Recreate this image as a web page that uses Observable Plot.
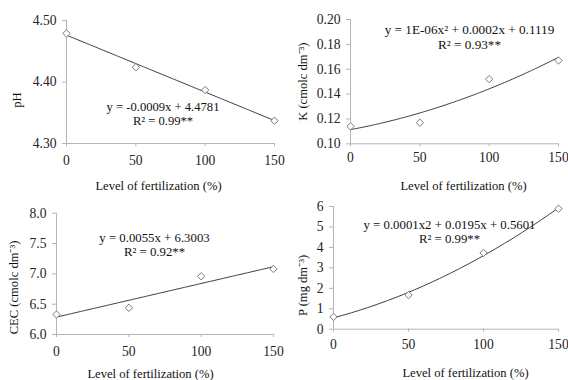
<!DOCTYPE html>
<html><head><meta charset="utf-8">
<script src="https://cdn.jsdelivr.net/npm/d3@7"></script>
<script src="https://cdn.jsdelivr.net/npm/@observablehq/plot@0.6"></script>
<style>
html,body{margin:0;padding:0;background:#fff;}
#chart{position:relative;width:568px;height:380px;overflow:hidden;background:#fff;}
#chart svg{position:absolute;left:0;top:0;}
</style></head><body><div id="chart"></div>
<script>
// ---- data ----
const levels = [0, 50, 100, 150];
const phValues = [4.479, 4.424, 4.387, 4.337];
const kValues = [0.114, 0.117, 0.152, 0.167];
const cecValues = [6.33, 6.44, 6.96, 7.08];
const pValues = [0.60, 1.67, 3.73, 5.89];
const xTicks = [0, 50, 100, 150];
const phTicks = [4.30, 4.40, 4.50];
const kTicks = [0.10, 0.12, 0.14, 0.16, 0.18, 0.20];
const cecTicks = [6.0, 6.5, 7.0, 7.5, 8.0];
const pTicks = [0, 1, 2, 3, 4, 5, 6];
const xTitle = "Level of fertilization (%)";
const yTitles = ["pH", "K (cmolc dm\u207B\u00B3)", "CEC (cmolc dm\u207B\u00B3)", "P (mg dm\u207B\u00B3)"];
const equations = [
  "y = -0.0009x + 4.4781\nR\u00B2 = 0.99**",
  "y = 1E-06x\u00B2 + 0.0002x + 0.1119\nR\u00B2 = 0.93**",
  "y = 0.0055x + 6.3003\nR\u00B2 = 0.92**",
  "y = 0.0001x2 + 0.0195x + 0.5601\nR\u00B2 = 0.99**"
];

// least-squares polynomial fit (trend line, as in the source chart)
function polyFit(xs, ys, deg) {
  const n = deg + 1;
  const A = Array.from({length: n}, () => new Array(n + 1).fill(0));
  for (let k = 0; k < xs.length; k++) {
    for (let i = 0; i < n; i++) {
      for (let j = 0; j < n; j++) A[i][j] += Math.pow(xs[k], i + j);
      A[i][n] += ys[k] * Math.pow(xs[k], i);
    }
  }
  for (let i = 0; i < n; i++) {
    let p = i;
    for (let r = i + 1; r < n; r++) if (Math.abs(A[r][i]) > Math.abs(A[p][i])) p = r;
    [A[i], A[p]] = [A[p], A[i]];
    for (let r = 0; r < n; r++) {
      if (r === i) continue;
      const f = A[r][i] / A[i][i];
      for (let c = i; c <= n; c++) A[r][c] -= f * A[i][c];
    }
  }
  return A.map((row, i) => row[n] / row[i]);
}
const evalPoly = (c, x) => c.reduce((s, a, i) => s + a * Math.pow(x, i), 0);

const panels = [
  {values: phValues, ticks: phTicks, fmt: d3.format(".2f"), deg: 1,
   frame: [66, 274, 20, 143], xPad: 8.7,
   xt: [-12, 42], yt: [-50, 18], eq: [96.5, 93.3], eqSize: 12.6},
  {values: kValues, ticks: kTicks, fmt: d3.format(".2f"), deg: 2,
   frame: [350, 558, 19, 143.3], xPad: 5.5,
   xt: [9, 42], yt: [-48, 0], eq: [119, 17.3], eqSize: 13.2},
  {values: cecValues, ticks: cecTicks, fmt: d3.format(".1f"), deg: 1,
   frame: [56, 273, 212.7, 334], xPad: 8.5,
   xt: [-14.5, 39], yt: [-43, 13.6], eq: [98, 31], eqSize: 12.8},
  {values: pValues, ticks: pTicks, fmt: d3.format("d"), deg: 2,
   frame: [333, 558, 206, 328.7], xPad: 7.1,
   xt: [19.5, 44], yt: [-31, 17.6], eq: [116, 25], eqSize: 12.8}
];

const W = 568, H = 380;
const axisGray = "#b5b5b5";
const chart = document.getElementById("chart");

panels.forEach((p, idx) => {
  const pts = levels.map((x, i) => ({x, y: p.values[i]}));
  const coef = polyFit(levels, p.values, p.deg);
  const curve = d3.range(0, 150.001, 1.5).map(x => ({x, y: evalPoly(coef, x)}));
  const [x0, x1, y0, y1] = p.frame;
  const ymin = p.ticks[0], ymax = p.ticks[p.ticks.length - 1];
  const svg = Plot.plot({
    width: W, height: H,
    marginLeft: x0, marginRight: W - x1, marginTop: y0, marginBottom: H - y1,
    style: {background: "transparent", fontFamily: "'Liberation Serif', 'Times New Roman', serif", color: "#1a1a1a", overflow: "visible"},
    x: {domain: [0, 150]},
    y: {domain: [ymin, ymax]},
    marks: [
      Plot.ruleX([0], {stroke: axisGray}),
      Plot.ruleY([ymin], {stroke: axisGray}),
      Plot.axisY({ticks: p.ticks, tickFormat: p.fmt, tickSize: 4, tickPadding: 6,
        stroke: axisGray, fill: "#222", fontSize: 13.6, label: null}),
      Plot.axisX({ticks: xTicks, tickFormat: d3.format("d"), tickSize: 3, tickPadding: p.xPad,
        stroke: axisGray, fill: "#222", fontSize: 13.6, label: null}),
      Plot.line(curve, {x: "x", y: "y", stroke: "#3c3c3c", strokeWidth: 1}),
      Plot.dot(pts, {x: "x", y: "y", symbol: "diamond2", r: 3.3, stroke: "#7a7a7a", fill: "white", strokeWidth: 1}),
      Plot.text([equations[idx]], {frameAnchor: "top-left", textAnchor: "middle", lineAnchor: "middle",
        dx: p.eq[0], dy: p.eq[1], lineHeight: 1.08, fontSize: p.eqSize, fill: "#111"}),
      Plot.text([xTitle], {frameAnchor: "bottom", textAnchor: "middle", lineAnchor: "middle",
        dx: p.xt[0], dy: p.xt[1], fontSize: 12.6, fill: "#111"}),
      Plot.text([yTitles[idx]], {frameAnchor: "left", textAnchor: "middle", lineAnchor: "middle",
        rotate: -90, dx: p.yt[0], dy: p.yt[1], fontSize: 12.6, fill: "#111"})
    ]
  });
  chart.appendChild(svg);
});
</script></body></html>
